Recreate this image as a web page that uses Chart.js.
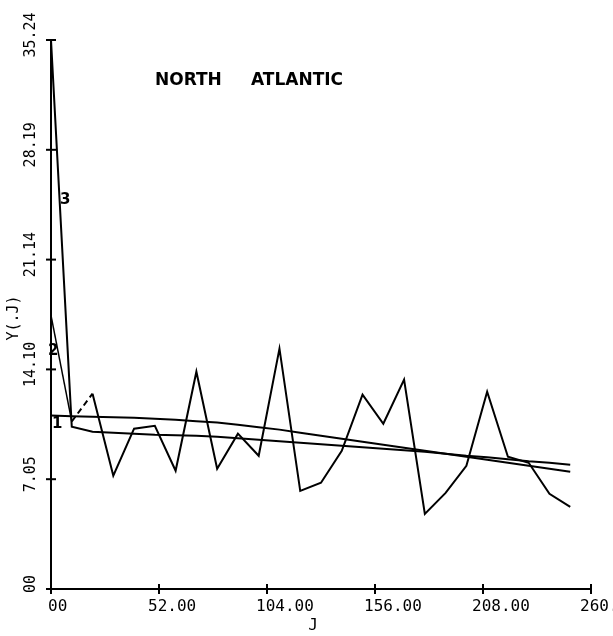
<!DOCTYPE html>
<html>
<head>
<meta charset="utf-8">
<script src="https://cdn.jsdelivr.net/npm/chart.js@4/dist/chart.umd.min.js"></script>
<style>
  html, body { margin: 0; padding: 0; background: #fff; }
  canvas { display: block; }
</style>
</head>
<body>
<canvas id="c" width="613" height="636"></canvas>
<script>
// ---- data ----
const jValues = [0,10,20,30,40,50,60,70,80,90,100,110,120,130,140,150,160,170,180,190,200,210,220,230,240,250];
const series1 = [11.13,11.09,11.06,11.03,11.00,10.93,10.87,10.77,10.68,10.55,10.39,10.23,10.03,9.84,9.65,9.45,9.26,9.07,8.87,8.68,8.49,8.30,8.10,7.91,7.72,7.52];
const series2 = [17.56,10.75,12.54,7.27,10.29,10.48,7.59,13.95,7.72,9.97,8.55,15.43,6.30,6.82,8.87,12.48,10.61,13.44,4.82,6.17,7.91,12.67,8.49,8.10,6.11,5.27];
const series3 = [35.24,10.42,10.10,10.03,9.97,9.90,9.87,9.84,9.77,9.68,9.58,9.49,9.39,9.29,9.20,9.10,9.00,8.91,8.81,8.68,8.55,8.46,8.33,8.20,8.10,7.97];

const xTicks = [0,52,104,156,208,260];
const xTickLabels = ["00","52.00","104.00","156.00","208.00","260."];
const yTicks = [0,7.048,14.096,21.144,28.192,35.24];
const yTickLabels = ["00","7.05","14.10","21.14","28.19","35.24"];

const seriesNames = ["1","2","3"];
const nameAtJ = [3.0, 1.1, 6.9];
const nameAtY = [10.6, 15.3, 24.95];

const titleWords = ["NORTH","ATLANTIC"];
const xTitle = "J";
const yTitle = "Y(.J)";

function pts(ys){ return jValues.map((j,i)=>({x:j,y:ys[i]})); }

const decor = {
  id: 'decor',
  afterDraw(chart){
    const ctx = chart.ctx, xs = chart.scales.x, ys = chart.scales.y;
    ctx.save();
    ctx.strokeStyle = '#000'; ctx.fillStyle = '#000'; ctx.lineWidth = 2;
    const x0 = xs.getPixelForValue(0), y0 = ys.getPixelForValue(0);
    // tick crosses
    xTicks.forEach(v=>{ const p = xs.getPixelForValue(v);
      ctx.beginPath(); ctx.moveTo(p, y0-5); ctx.lineTo(p, y0+5); ctx.stroke(); });
    yTicks.forEach(v=>{ const p = ys.getPixelForValue(v);
      ctx.beginPath(); ctx.moveTo(x0-5, p); ctx.lineTo(x0+5, p); ctx.stroke(); });
    // x tick labels
    ctx.font = '16px "DejaVu Sans Mono", monospace';
    ctx.textBaseline = 'middle'; ctx.textAlign = 'left';
    xTicks.forEach((v,i)=>{ const p = xs.getPixelForValue(v);
      ctx.fillText(xTickLabels[i], p - (i===0 ? 3 : 11), y0 + 18); });
    // y tick labels (rotated)
    ctx.font = '15px "DejaVu Sans Mono", monospace';
    ctx.textAlign = 'center';
    yTicks.forEach((v,i)=>{ const p = ys.getPixelForValue(v);
      ctx.save(); ctx.translate(31, p - 5); ctx.rotate(-Math.PI/2);
      ctx.fillText(yTickLabels[i], 0, 0); ctx.restore(); });
    // axis titles
    ctx.save(); ctx.translate(14, 318); ctx.rotate(-Math.PI/2);
    ctx.fillText(yTitle, 0, 0); ctx.restore();
    ctx.font = '16px "DejaVu Sans Mono", monospace';
    ctx.fillText(xTitle, 313, 626);
    // chart title
    ctx.font = 'bold 17px "DejaVu Sans", sans-serif';
    ctx.textAlign = 'left';
    ctx.fillText(titleWords[0], 155, 81);
    ctx.fillText(titleWords[1], 251, 81);
    // series names
    ctx.font = 'bold 15px "DejaVu Sans", sans-serif';
    ctx.textAlign = 'center';
    seriesNames.forEach((n,i)=>{
      ctx.fillText(n, xs.getPixelForValue(nameAtJ[i]), ys.getPixelForValue(nameAtY[i]));
    });
    ctx.restore();
  }
};

const ds = (data, extra) => Object.assign({
  data: pts(data), borderColor: '#000', backgroundColor: '#000',
  borderWidth: 2, pointRadius: 0, tension: 0, fill: false
}, extra||{});

new Chart(document.getElementById('c'), {
  type: 'line',
  data: { datasets: [
    ds(series1, {label: seriesNames[0]}),
    ds(series2, {label: seriesNames[1], segment: {
      borderDash: c => c.p0DataIndex === 1 ? [6,4] : undefined,
      borderWidth: c => c.p0DataIndex === 0 ? 1.5 : 2 }}),
    ds(series3, {label: seriesNames[2]})
  ]},
  options: {
    responsive: false, animation: false, events: [],
    layout: { padding: { left: 43, right: 22, top: 40, bottom: 39 } },
    plugins: { legend: {display:false}, tooltip: {enabled:false}, title: {display:false} },
    scales: {
      x: { type: 'linear', min: 0, max: 260,
           ticks: {display:false}, grid: {display:false},
           border: {display:true, color:'#000', width:2} },
      y: { type: 'linear', min: 0, max: 35.24,
           ticks: {display:false}, grid: {display:false},
           border: {display:true, color:'#000', width:2} }
    }
  },
  plugins: [decor]
});
</script>
</body>
</html>
